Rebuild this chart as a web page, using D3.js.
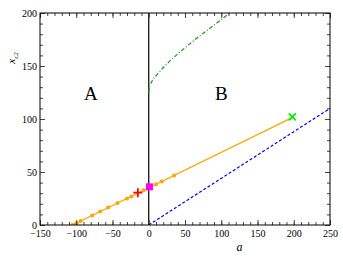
<!DOCTYPE html>
<html>
<head>
<meta charset="utf-8">
<script src="https://cdn.jsdelivr.net/npm/d3@7"></script>
<style>
  body { margin: 0; background: #fff; }
  text { font-family: "Liberation Serif", "DejaVu Serif", serif; }
</style>
</head>
<body>
<div class="chart"></div>
<script>
// orange line with its dots
const orangeLineX = [-105, 200]
const orangeLineY = [0, 102]
const orangeDotsX = [-105, -100, -94, -78, -67, -56, -43, -30, -24, -7, 10, 18, 35]
const orangeDotsY = [0, 1.7, 3.7, 9, 12.7, 16.4, 20.7, 25, 27, 32.7, 38.4, 41, 46.8]

// blue dashed line
const blueX = [0, 250]
const blueY = [0, 110]

// green dash-dot curve
const greenX = [0, 1, 4, 13, 25, 41, 64, 87, 108, 112]
const greenY = [125, 130, 135, 143, 152, 162, 175, 187, 198, 200]

// special markers
const plusPoint = [-15, 30.5]
const squarePoint = [1, 36]
const crossPoint = [198, 102]

const regionLabels = ['A', 'B']
const regionX = [-80, 100]
const regionY = [118, 118]

const xTicks = [-150, -100, -50, 0, 50, 100, 150, 200, 250]
const yTicks = [0, 50, 100, 150, 200]

const dimensions = {
    width: 343,
    height: 265,
    margin: { top: 13, right: 13, bottom: 40, left: 40 }
}
const innerW = dimensions.width - dimensions.margin.left - dimensions.margin.right
const innerH = dimensions.height - dimensions.margin.top - dimensions.margin.bottom

const svg = d3.select('.chart').append('svg')
    .attr('width', dimensions.width)
    .attr('height', dimensions.height)

const g = svg.append('g')
    .attr('transform', `translate(${dimensions.margin.left},${dimensions.margin.top})`)

const x = d3.scaleLinear().domain([-150, 250]).range([0, innerW])
const y = d3.scaleLinear().domain([0, 200]).range([innerH, 0])

g.append('clipPath').attr('id', 'clip')
    .append('rect').attr('width', innerW).attr('height', innerH)

const plot = g.append('g').attr('clip-path', 'url(#clip)')

const line = d3.line().x(d => x(d[0])).y(d => y(d[1]))

// vertical line at a = 0
plot.append('line')
    .attr('x1', x(0)).attr('x2', x(0))
    .attr('y1', 0).attr('y2', innerH)
    .attr('stroke', '#000').attr('stroke-width', 1.2)

// blue dashed
plot.append('path')
    .attr('d', line(d3.zip(blueX, blueY)))
    .attr('fill', 'none').attr('stroke', '#0000ff')
    .attr('stroke-width', 1.2).attr('stroke-dasharray', '3,2')

// green dash-dot
plot.append('path')
    .attr('d', d3.line().x(d => x(d[0])).y(d => y(d[1])).curve(d3.curveMonotoneX)(d3.zip(greenX, greenY)))
    .attr('fill', 'none').attr('stroke', '#1e961e')
    .attr('stroke-width', 1.2).attr('stroke-dasharray', '4,2,1,2')

// orange
plot.append('path')
    .attr('d', line(d3.zip(orangeLineX, orangeLineY)))
    .attr('fill', 'none').attr('stroke', '#ffa500').attr('stroke-width', 1.2)

plot.selectAll('circle.dot')
    .data(d3.zip(orangeDotsX, orangeDotsY))
    .join('circle')
    .attr('class', 'dot')
    .attr('cx', d => x(d[0]))
    .attr('cy', d => y(d[1]))
    .attr('r', 2)
    .attr('fill', '#ffa500')

// markers
plot.append('rect')
    .attr('x', x(squarePoint[0]) - 3.5).attr('y', y(squarePoint[1]) - 3.5)
    .attr('width', 7).attr('height', 7).attr('fill', '#ff00ff')

plot.append('path')
    .attr('d', 'M-4.5,0H4.5M0,-4.5V4.5')
    .attr('transform', `translate(${x(plusPoint[0])},${y(plusPoint[1])})`)
    .attr('fill', 'none').attr('stroke', '#ff0000').attr('stroke-width', 1.8)

plot.append('path')
    .attr('d', 'M-3.5,-3.5L3.5,3.5M-3.5,3.5L3.5,-3.5')
    .attr('transform', `translate(${x(crossPoint[0])},${y(crossPoint[1])})`)
    .attr('fill', 'none').attr('stroke', '#00ee00').attr('stroke-width', 1.8)

// region labels
g.selectAll('text.region')
    .data(regionLabels)
    .join('text')
    .attr('class', 'region')
    .attr('x', (d, i) => x(regionX[i]))
    .attr('y', (d, i) => y(regionY[i]))
    .attr('text-anchor', 'middle')
    .attr('font-size', 19)
    .text(d => d)

// axes: inward ticks on all four sides
const xMinor = d3.range(-150, 251, 10)
const yMinor = d3.range(0, 201, 10)

g.append('g').attr('transform', `translate(0,${innerH})`)
    .call(d3.axisBottom(x).tickValues(xTicks).tickSizeInner(-5).tickSizeOuter(0).tickPadding(5).tickFormat(d3.format('d')))
g.append('g').attr('transform', `translate(0,${innerH})`)
    .call(d3.axisBottom(x).tickValues(xMinor).tickSizeInner(-3).tickSizeOuter(0).tickFormat(''))
g.append('g')
    .call(d3.axisTop(x).tickValues(xTicks).tickSizeInner(-5).tickSizeOuter(0).tickFormat(''))
g.append('g')
    .call(d3.axisTop(x).tickValues(xMinor).tickSizeInner(-3).tickSizeOuter(0).tickFormat(''))

g.append('g')
    .call(d3.axisLeft(y).tickValues(yTicks).tickSizeInner(-5).tickSizeOuter(0).tickPadding(3).tickFormat(d3.format('d')))
g.append('g')
    .call(d3.axisLeft(y).tickValues(yMinor).tickSizeInner(-3).tickSizeOuter(0).tickFormat(''))
g.append('g').attr('transform', `translate(${innerW},0)`)
    .call(d3.axisRight(y).tickValues(yTicks).tickSizeInner(-5).tickSizeOuter(0).tickFormat(''))
g.append('g').attr('transform', `translate(${innerW},0)`)
    .call(d3.axisRight(y).tickValues(yMinor).tickSizeInner(-3).tickSizeOuter(0).tickFormat(''))

g.selectAll('.domain').remove()
g.selectAll('.tick line').attr('stroke', '#444')
g.selectAll('.tick text')
    .attr('font-size', 10)
    .attr('fill', '#000')

// frame
g.append('rect')
    .attr('width', innerW).attr('height', innerH)
    .attr('fill', 'none').attr('stroke', '#000').attr('stroke-width', 1)

// axis titles
svg.append('text')
    .attr('x', dimensions.margin.left + x(125))
    .attr('y', 251)
    .attr('text-anchor', 'middle')
    .attr('font-style', 'italic')
    .attr('font-size', 12)
    .text('a')

const yl = svg.append('text')
    .attr('transform', 'translate(15,58) rotate(-90)')
    .attr('text-anchor', 'middle')
    .attr('font-style', 'italic')
    .attr('font-size', 11)
yl.append('tspan').text('x')
yl.append('tspan').attr('font-size', 7).attr('dy', 3).text('c2')
</script>
</body>
</html>
